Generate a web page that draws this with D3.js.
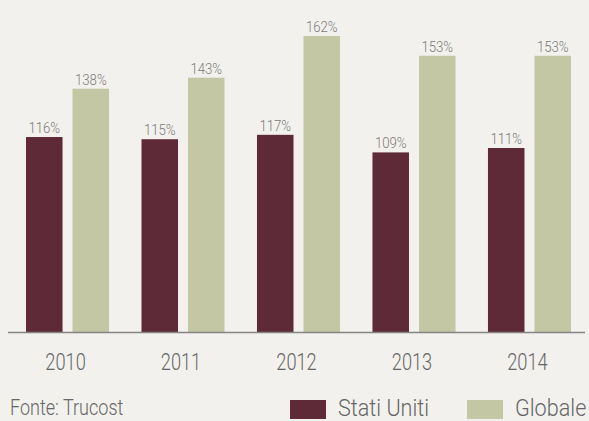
<!DOCTYPE html>
<html>
<head>
<meta charset="utf-8">
<script src="https://cdn.jsdelivr.net/npm/d3@7"></script>
<style>
  html, body { margin: 0; padding: 0; background: #f2f1ed; }
  svg { display: block; }
  text { font-family: Roboto, "Noto Sans", sans-serif; font-weight: 300; }
</style>
</head>
<body>
<svg id="chart" width="589" height="421"></svg>
<script>
// ---- data ----
const years = ["2010", "2011", "2012", "2013", "2014"];
const seriesNames = ["Stati Uniti", "Globale"];
const statiUniti = [116, 115, 117, 109, 111];
const globale = [138, 143, 162, 153, 153];
const source = "Fonte: Trucost";

const colors = ["#5f2a38", "#c3c7a4"];
const seriesValues = [statiUniti, globale];

const W = 589, H = 421;
const baseY = 332.5;

const svg = d3.select("#chart");
svg.append("rect").attr("width", W).attr("height", H).attr("fill", "#f2f1ed");

const x = d3.scaleBand().domain(years).range([26, 571]).paddingInner(0.281).paddingOuter(0);
const xs = d3.scaleBand().domain(seriesNames).range([0, x.bandwidth()]).paddingInner(0.215).paddingOuter(0);
const y = d3.scaleLinear().domain([27, 162]).range([baseY, 36]);

const rows = years.map((yr, i) => ({
  year: yr,
  vals: seriesNames.map((s, j) => ({ series: s, value: seriesValues[j][i], color: colors[j] }))
}));

const g = svg.append("g");
const groups = g.selectAll("g.grp").data(rows).join("g")
  .attr("class", "grp")
  .attr("transform", d => `translate(${x(d.year)},0)`);

groups.selectAll("rect").data(d => d.vals).join("rect")
  .attr("x", d => xs(d.series))
  .attr("width", xs.bandwidth())
  .attr("y", d => y(d.value))
  .attr("height", d => baseY - y(d.value))
  .attr("fill", d => d.color);

groups.selectAll("text.lbl").data(d => d.vals).join("text")
  .attr("class", "lbl")
  .attr("transform", d => `translate(${xs(d.series) + xs.bandwidth() / 2},${y(d.value) - 4}) scale(0.88,1)`)
  .attr("text-anchor", "middle")
  .attr("font-size", 15)
  .attr("fill", "#7a7a7a")
  .text(d => d.value + "%");

// baseline axis
const xAxis = d3.axisBottom(x).tickSize(0).tickPadding(0);
const axG = svg.append("g").attr("transform", `translate(0,${baseY})`).call(xAxis);
axG.select(".domain").remove();
axG.selectAll(".tick text")
  .attr("font-size", 24)
  .attr("font-family", "Roboto, sans-serif")
  .attr("fill", "#666")
  .attr("dy", null)
  .attr("y", 0)
  .attr("transform", "translate(-2,37) scale(0.76,1)");
svg.append("line")
  .attr("x1", 8).attr("x2", 585)
  .attr("y1", baseY).attr("y2", baseY)
  .attr("stroke", "#858585").attr("stroke-width", 1.6);

// legend
const legendX = [290, 467];
const leg = svg.append("g");
seriesNames.forEach((s, j) => {
  leg.append("rect").attr("x", legendX[j]).attr("y", 400).attr("width", 36).attr("height", 19).attr("fill", colors[j]);
  leg.append("text")
    .attr("transform", `translate(${legendX[j] + 48},416) scale(0.9,1)`)
    .attr("font-size", 24)
    .attr("fill", "#666")
    .text(s);
});

// source
svg.append("text")
  .attr("transform", "translate(10,415) scale(0.82,1)")
  .attr("font-size", 22)
  .attr("fill", "#666")
  .text(source);
</script>
</body>
</html>
